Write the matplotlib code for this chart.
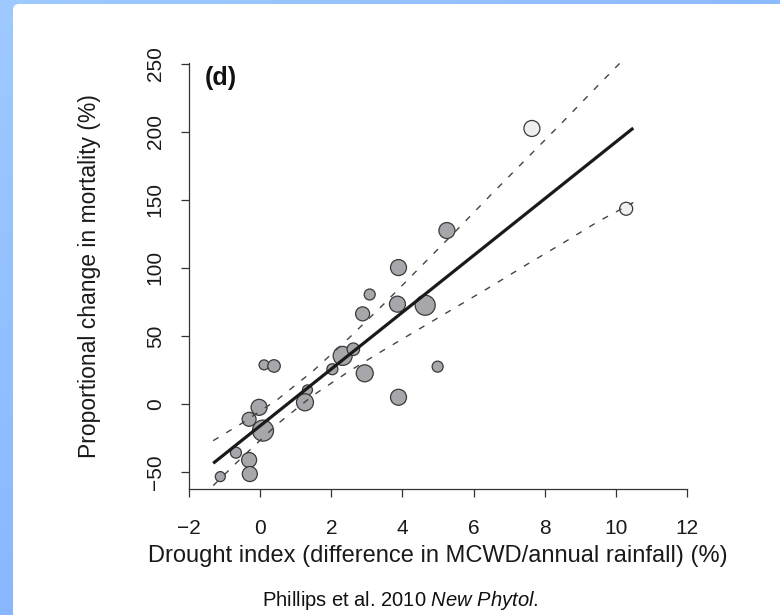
import numpy as np
import matplotlib
matplotlib.use("Agg")
import matplotlib.pyplot as plt
from matplotlib.patches import FancyBboxPatch

# ---------------- data ----------------
drought_index = [-1.12, -0.68, -0.31, -0.29, -0.31, -0.03, 0.08, 0.11, 0.39, 1.33,
                 1.26, 2.03, 2.32, 2.62, 2.94, 2.88, 3.08, 3.86, 3.89, 3.89,
                 4.64, 4.99, 5.25, 7.64, 10.29]
mortality_change = [-53.4, -35.8, -41.2, -51.5, -11.3, -2.5, -19.6, 28.7, 27.9, 10.3,
                    1.2, 25.5, 35.3, 40.2, 22.5, 66.2, 80.4, 73.3, 100.2, 4.9,
                    72.5, 27.4, 127.4, 202.4, 143.4]
# symbol diameter (plot weight), in pixels as drawn
weight = [10, 11, 15, 15, 14, 16, 21, 10, 12.5, 10,
          17, 11, 19, 12.5, 17, 14, 11, 16, 16, 16,
          20, 11, 16, 16, 13]
excluded = [False] * 23 + [True, True]

fit_x = [-1.32, 10.49]
fit_y = [-43.6, 202.7]
band_x = [-1.32, -0.5, 0.5, 1.5, 2.5, 3.5, 4.5, 5.5, 6.5, 7.5, 8.5, 9.5, 10.49]
band_upper = [-27, -14, 3.5, 24.5, 48.5, 74, 100.5, 127, 154, 180.5, 207, 234, 260.5]
band_lower = [-60, -39, -14.5, 6.5, 24, 40, 55.5, 71, 86.5, 102.5, 118, 134, 148]

x_ticks = [-2, 0, 2, 4, 6, 8, 10, 12]
y_ticks = [-50, 0, 50, 100, 150, 200, 250]

# ---------------- figure ----------------
plt.rcParams['font.family'] = ['Liberation Sans', 'DejaVu Sans']
plt.rcParams['mathtext.fontset'] = 'custom'
plt.rcParams['mathtext.rm'] = 'Liberation Sans'
plt.rcParams['mathtext.it'] = 'Liberation Sans:italic'
plt.rcParams['mathtext.bf'] = 'Liberation Sans:bold'
W, H = 780, 615
fig = plt.figure(figsize=(W / 100, H / 100), dpi=100)

# blue gradient background with white rounded panel
bg = fig.add_axes([0, 0, 1, 1], zorder=-10)
yy, xx = np.mgrid[0:1:200j, 0:1:200j]
t = np.clip(0.55 * yy + 0.45 * xx, 0, 1)
top = np.array([158, 202, 255]) / 255
bot = np.array([120, 168, 255]) / 255
img = top[None, None, :] * (1 - t[..., None]) + bot[None, None, :] * t[..., None]
bg.imshow(img, extent=[0, W, H, 0], aspect='auto', interpolation='bilinear')
bg.add_patch(FancyBboxPatch((13, 4), W + 40, H + 40,
                            boxstyle="round,pad=0,rounding_size=6",
                            facecolor='white', edgecolor='none'))
bg.set_xlim(0, W)
bg.set_ylim(H, 0)
bg.axis('off')

ax = fig.add_axes([189 / W, 1 - 489 / H, 498 / W, 426 / H])
ax.set_xlim(-2, 12)
ax.set_ylim(-62.5, 250.5)

# points
sizes = [(d * 0.72) ** 2 for d in weight]
fills = ['#efefef' if e else '#a7a7ab' for e in excluded]
ax.scatter(drought_index, mortality_change, s=sizes, c=fills,
           edgecolors='#3a3a3a', linewidths=0.9, zorder=2, clip_on=False)

# regression and confidence band
ax.plot(fit_x, fit_y, color='#1a1a1a', lw=2.3, zorder=3, solid_capstyle='butt')
for band in (band_upper, band_lower):
    ax.plot(band_x, band, color='#444444', lw=1.0, dashes=(4.5, 6.5), zorder=3)

# axes styling (R-like, bty = "l")
for s in ('top', 'right'):
    ax.spines[s].set_visible(False)
for s in ('left', 'bottom'):
    ax.spines[s].set_color('#333333')
    ax.spines[s].set_linewidth(0.9)
ax.set_xticks(x_ticks)
ax.set_yticks(y_ticks)
ax.tick_params(direction='out', length=5.5, width=0.9, color='#333333',
               labelsize=15, labelcolor='#1a1a1a')
ax.tick_params(axis='x', pad=16)
ax.tick_params(axis='y', pad=12, labelrotation=90)
for lab in ax.get_yticklabels():
    lab.set_va('center')

ax.set_xlabel('Drought index (difference in MCWD/annual rainfall) (%)',
              fontsize=17, color='#1a1a1a', labelpad=5)
ax.set_ylabel('Proportional change in mortality (%)',
              fontsize=16.5, color='#1a1a1a', labelpad=32)

ax.text(0.032, 0.965, '(d)', transform=ax.transAxes, fontsize=18,
        fontweight='bold', ha='left', va='center', color='#111111')

# caption
fig.text(400 / W, 1 - 600 / H, 'Phillips et al. 2010 $\\mathit{New\\ Phytol}$.',
         ha='center', va='center', fontsize=14.5, color='#111111')

fig.savefig('out.png', dpi=100)
